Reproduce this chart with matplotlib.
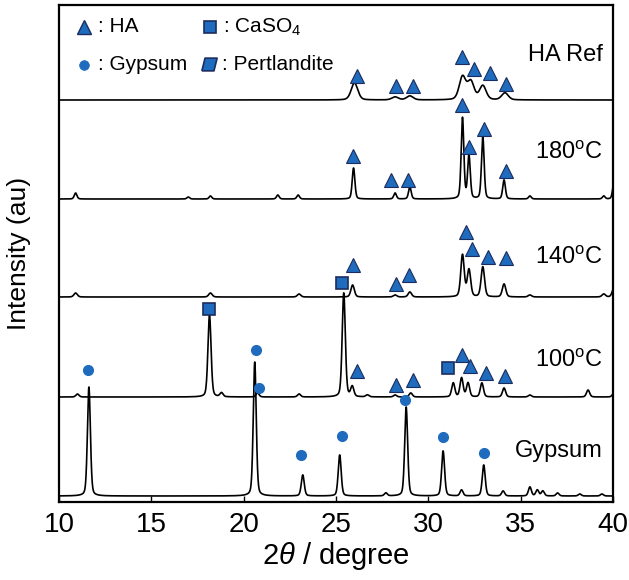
import numpy as np
import matplotlib.pyplot as plt

plt.rcParams['font.family'] = ['Liberation Sans', 'DejaVu Sans']
plt.rcParams['mathtext.fontset'] = 'custom'
plt.rcParams['mathtext.rm'] = 'Liberation Sans'
plt.rcParams['mathtext.it'] = 'Liberation Sans:italic'

# stacked patterns, top to bottom
pattern_labels = ['HA Ref', '180$^{\\mathrm{o}}$C', '140$^{\\mathrm{o}}$C', '100$^{\\mathrm{o}}$C', 'Gypsum']
pattern_offset = [402, 303, 205, 105, 6]
peak_width = [0.42, 0.17, 0.22, 0.2, 0.19]

# peak positions (2theta) and heights
ha_ref_pos = [26.0, 28.2, 29.0, 31.85, 32.3, 32.95, 34.15]
ha_ref_h = [17, 3, 4, 23, 18, 14, 7]

t180_pos = [10.9, 17.0, 18.2, 21.85, 22.95, 25.95, 28.2, 29.0, 31.85, 32.2, 32.95, 34.1, 35.5, 39.5, 40.05]
t180_h = [6, 2, 3, 4, 4, 31, 6, 12, 81, 43, 62, 19, 3, 3, 16]

t140_pos = [10.9, 18.2, 23.0, 25.9, 28.2, 29.0, 31.85, 32.2, 32.95, 34.1, 35.5, 39.5, 40.05]
t140_h = [4, 4, 3, 12, 2, 5, 42, 27, 30, 13, 2, 3, 9]

t100_pos = [11.0, 18.15, 18.8, 20.75, 23.0, 25.42, 25.88, 26.7, 28.2, 29.05, 31.35, 31.8, 32.15, 32.9, 34.1, 35.5, 38.65, 40.05]
t100_h = [3, 82, 4, 4, 3, 104, 10, 2, 2, 4, 14, 19, 14, 14, 9, 2, 7, 4]

gyp_pos = [11.62, 20.6, 23.2, 25.2, 27.7, 28.8, 30.8, 31.8, 33.0, 34.05, 35.5, 35.9, 36.2, 37.0, 38.2, 39.4]
gyp_h = [109, 134, 21, 41, 3, 89, 45, 6, 31, 5, 9, 6, 5, 3, 2, 2]

peaks_pos = [ha_ref_pos, t180_pos, t140_pos, t100_pos, gyp_pos]
peaks_h = [ha_ref_h, t180_h, t140_h, t100_h, gyp_h]

# phase markers: (2theta, height above the pattern baseline)
ha_ref_tri_x = [26.13, 28.25, 29.17, 31.82, 32.47, 33.34, 34.2]
ha_ref_tri_y = [24, 14, 14, 43, 31, 27, 16]
t180_tri_x = [25.92, 27.97, 28.9, 31.82, 32.2, 33.01, 34.2]
t180_tri_y = [43, 19, 19, 94, 52, 70, 28]
t140_tri_x = [25.92, 28.25, 28.95, 32.04, 32.36, 33.23, 34.2]
t140_tri_y = [32, 13, 22, 65, 48, 40, 39]
t100_tri_x = [26.13, 28.25, 29.17, 31.82, 32.25, 33.12, 34.15]
t100_tri_y = [26, 12, 17, 42, 31, 24, 21]
t100_sq_x = [18.12, 25.32, 31.06]
t100_sq_y = [88, 114, 29]
t100_circ_x = [20.83]
t100_circ_y = [9]
gyp_circ_x = [11.57, 20.67, 23.1, 25.32, 28.73, 30.79, 33.01]
gyp_circ_y = [126, 146, 41, 60, 96, 59, 43]

fill_blue = '#1f6bbd'
edge_navy = '#1b2d5e'


def profile(x, pos, h, w, eta=0.3):
    y = np.zeros_like(x)
    for p, a in zip(pos, h):
        d = (x - p) / w
        g = np.exp(-4 * np.log(2) * d ** 2)
        l = 1 / (1 + 4 * d ** 2)
        y += a * ((1 - eta) * g + eta * l)
    return y


fig = plt.figure(figsize=(6.29, 5.80), dpi=100)
ax = fig.add_axes([59 / 629, 78 / 580, 554 / 629, 497 / 580])

x = np.linspace(10, 40, 3001)
for i in range(5):
    y = pattern_offset[i] + profile(x, peaks_pos[i], peaks_h[i], peak_width[i])
    ax.plot(x, y, color='black', lw=1.2, zorder=2)
    ax.text(39.45, pattern_offset[i] + [45, 46, 39, 36, 45][i], pattern_labels[i],
            ha='right', va='center', fontsize=17)

tri_sets = [(ha_ref_tri_x, ha_ref_tri_y, 0), (t180_tri_x, t180_tri_y, 1),
            (t140_tri_x, t140_tri_y, 2), (t100_tri_x, t100_tri_y, 3)]
for tx, ty, k in tri_sets:
    ax.plot(tx, np.array(ty) + pattern_offset[k], ls='none', marker='^', ms=10,
            mfc=fill_blue, mec=edge_navy, mew=0.8, zorder=3)
ax.plot(t100_sq_x, np.array(t100_sq_y) + pattern_offset[3], ls='none', marker='s', ms=8.5,
        mfc=fill_blue, mec=edge_navy, mew=1.2, zorder=3)
ax.plot(t100_circ_x, np.array(t100_circ_y) + pattern_offset[3], ls='none', marker='o', ms=7,
        mfc=fill_blue, mec=fill_blue, zorder=3)
ax.plot(gyp_circ_x, np.array(gyp_circ_y) + pattern_offset[4], ls='none', marker='o', ms=7,
        mfc=fill_blue, mec=fill_blue, zorder=3)

# legend drawn as text + markers in the top-left corner
para = [(-0.6, -0.5), (0.35, -0.5), (0.6, 0.5), (-0.35, 0.5), (-0.6, -0.5)]
leg_items = [('^', 10.0, 475, ': HA', 10, 1.0), ('s', 16.8, 475, ': CaSO$_4$', 8.5, 1.2),
             ('o', 10.0, 437, ': Gypsum', 7, 0), (para, 16.75, 438, ': Pertlandite', 11, 1.2)]
for mk, lx, ly, txt, ms, mew in leg_items:
    ax.plot([lx + 1.35], [ly], ls='none', marker=mk, ms=ms, mfc=fill_blue,
            mec=edge_navy if mew else fill_blue, mew=mew if mew else 0.5)
    ax.text(lx + 2.1, ly, txt, ha='left', va='center', fontsize=15)

ax.set_xlim(10, 40)
ax.set_ylim(0, 497)
ax.set_xticks([10, 15, 20, 25, 30, 35, 40])
ax.set_yticks([])
ax.tick_params(axis='x', direction='in', length=4, width=1, labelsize=20, pad=7)
for s in ax.spines.values():
    s.set_linewidth(1.6)
ax.set_xlabel('2$\\it{\\theta}$ / degree', fontsize=21, labelpad=2)
ax.set_ylabel('Intensity (au)', fontsize=19, labelpad=20)

plt.savefig('out.png', dpi=100)
